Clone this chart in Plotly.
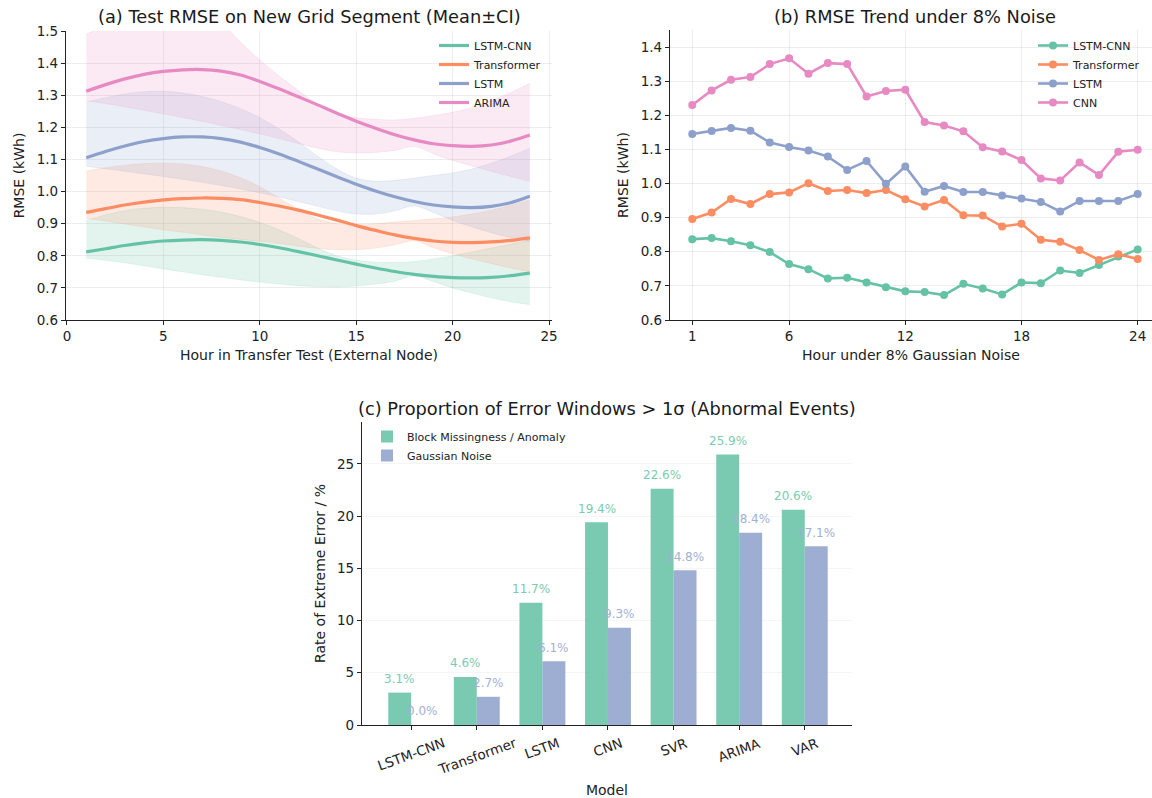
import plotly.graph_objects as go

FONT = "DejaVu Sans"
C_GREEN = "#66c2a5"
C_ORANGE = "#fc8d62"
C_BLUE = "#8da0cb"
C_PINK = "#e78ac3"

# ---------------- Panel (a) data ----------------
hours_a = list(range(1, 25))
a_models = ["LSTM-CNN", "Transformer", "LSTM", "ARIMA"]
a_mean_lstmcnn = [0.812, 0.822, 0.832, 0.840, 0.846, 0.849, 0.850, 0.848, 0.843, 0.835, 0.825, 0.813,
                  0.800, 0.787, 0.774, 0.762, 0.751, 0.742, 0.736, 0.732, 0.731, 0.733, 0.738, 0.746]
a_up_lstmcnn = [0.910, 0.927, 0.941, 0.948, 0.951, 0.950, 0.945, 0.936, 0.922, 0.904, 0.881, 0.854,
                0.824, 0.800, 0.786, 0.780, 0.779, 0.782, 0.790, 0.800, 0.812, 0.824, 0.836, 0.849]
a_lo_lstmcnn = [0.793, 0.786, 0.778, 0.769, 0.759, 0.750, 0.741, 0.733, 0.725, 0.718, 0.712, 0.707,
                0.704, 0.703, 0.706, 0.712, 0.721, 0.737, 0.720, 0.700, 0.684, 0.669, 0.657, 0.648]
a_mean_transformer = [0.935, 0.947, 0.958, 0.967, 0.974, 0.978, 0.980, 0.979, 0.975, 0.966, 0.955, 0.942,
                      0.927, 0.911, 0.894, 0.879, 0.865, 0.854, 0.846, 0.842, 0.841, 0.843, 0.848, 0.856]
a_up_transformer = [1.064, 1.074, 1.082, 1.087, 1.088, 1.086, 1.078, 1.064, 1.043, 1.015, 0.980, 0.945,
                    0.915, 0.900, 0.897, 0.900, 0.905, 0.910, 0.915, 0.921, 0.930, 0.942, 0.957, 0.974]
a_lo_transformer = [0.917, 0.908, 0.899, 0.890, 0.881, 0.873, 0.865, 0.858, 0.851, 0.845, 0.838, 0.830,
                    0.823, 0.819, 0.819, 0.824, 0.834, 0.847, 0.825, 0.806, 0.790, 0.776, 0.762, 0.750]
a_mean_lstm = [1.105, 1.125, 1.142, 1.156, 1.165, 1.170, 1.170, 1.165, 1.154, 1.137, 1.117, 1.094,
               1.070, 1.046, 1.023, 1.002, 0.984, 0.969, 0.958, 0.952, 0.950, 0.954, 0.965, 0.985]
a_up_lstm = [1.278, 1.292, 1.304, 1.311, 1.312, 1.307, 1.296, 1.280, 1.258, 1.230, 1.195, 1.155,
             1.110, 1.070, 1.042, 1.032, 1.035, 1.042, 1.050, 1.058, 1.070, 1.088, 1.110, 1.135]
a_lo_lstm = [1.079, 1.071, 1.063, 1.055, 1.047, 1.038, 1.029, 1.019, 1.008, 0.996, 0.983, 0.969,
             0.954, 0.940, 0.930, 0.930, 0.940, 0.955, 0.935, 0.910, 0.890, 0.872, 0.857, 0.845]
a_mean_arima = [1.312, 1.333, 1.351, 1.365, 1.374, 1.379, 1.380, 1.375, 1.363, 1.343, 1.320, 1.295,
                1.270, 1.244, 1.219, 1.197, 1.177, 1.161, 1.149, 1.143, 1.141, 1.145, 1.157, 1.176]
a_up_arima = [1.490, 1.515, 1.535, 1.550, 1.558, 1.558, 1.550, 1.525, 1.465, 1.410, 1.360, 1.315,
              1.272, 1.243, 1.230, 1.225, 1.223, 1.228, 1.237, 1.247, 1.262, 1.283, 1.308, 1.337]
a_lo_arima = [1.283, 1.274, 1.264, 1.253, 1.242, 1.231, 1.219, 1.206, 1.193, 1.180, 1.165, 1.150,
              1.135, 1.124, 1.120, 1.122, 1.128, 1.140, 1.118, 1.097, 1.080, 1.063, 1.047, 1.032]

# ---------------- Panel (b) data ----------------
hours_b = list(range(1, 25))
b_lstmcnn = [0.837, 0.840, 0.831, 0.819, 0.799, 0.764, 0.749, 0.722, 0.724, 0.710, 0.696, 0.684,
             0.682, 0.673, 0.706, 0.692, 0.675, 0.710, 0.708, 0.745, 0.738, 0.761, 0.786, 0.807]
b_transformer = [0.896, 0.915, 0.955, 0.940, 0.969, 0.974, 1.001, 0.978, 0.981, 0.972, 0.981, 0.954,
                 0.933, 0.952, 0.907, 0.906, 0.874, 0.882, 0.835, 0.829, 0.805, 0.776, 0.793, 0.779]
b_lstm = [1.145, 1.154, 1.163, 1.155, 1.120, 1.107, 1.097, 1.079, 1.040, 1.066, 0.999, 1.050,
          0.976, 0.993, 0.975, 0.975, 0.965, 0.956, 0.946, 0.918, 0.949, 0.949, 0.949, 0.969]
b_cnn = [1.230, 1.273, 1.304, 1.312, 1.350, 1.367, 1.322, 1.353, 1.350, 1.255, 1.271, 1.275,
         1.180, 1.170, 1.153, 1.106, 1.094, 1.069, 1.015, 1.009, 1.062, 1.025, 1.093, 1.099]
b_ticks = [1, 6, 12, 18, 24]

# ---------------- Panel (c) data ----------------
c_models = ["LSTM-CNN", "Transformer", "LSTM", "CNN", "SVR", "ARIMA", "VAR"]
c_block = [3.1, 4.6, 11.7, 19.4, 22.6, 25.9, 20.6]
c_gauss = [0.0, 2.7, 6.1, 9.3, 14.8, 18.4, 17.1]


def rgba(hex_color, a):
    h = hex_color.lstrip("#")
    r, g, b = int(h[0:2], 16), int(h[2:4], 16), int(h[4:6], 16)
    return f"rgba({r},{g},{b},{a})"


W, H = 1152, 798


def px_x(ref_x):
    return ref_x / W


def px_y(ref_y):
    return 1 - ref_y / H


fig = go.Figure()

# Panel (a): bands then lines
a_series = [
    ("LSTM-CNN", C_GREEN, a_mean_lstmcnn, a_up_lstmcnn, a_lo_lstmcnn),
    ("Transformer", C_ORANGE, a_mean_transformer, a_up_transformer, a_lo_transformer),
    ("LSTM", C_BLUE, a_mean_lstm, a_up_lstm, a_lo_lstm),
    ("ARIMA", C_PINK, a_mean_arima, a_up_arima, a_lo_arima),
]
for name, col, mean, up, lo in a_series:
    fig.add_trace(go.Scatter(x=hours_a, y=up, mode="lines", line=dict(width=0.6, color=rgba(col, 0.25), shape="spline"),
                             showlegend=False, hoverinfo="skip", xaxis="x", yaxis="y"))
    fig.add_trace(go.Scatter(x=hours_a, y=lo, mode="lines", line=dict(width=0.6, color=rgba(col, 0.25), shape="spline"),
                             fill="tonexty", fillcolor=rgba(col, 0.18), showlegend=False, hoverinfo="skip",
                             xaxis="x", yaxis="y"))
for name, col, mean, up, lo in a_series:
    fig.add_trace(go.Scatter(x=hours_a, y=mean, mode="lines", name=name,
                             line=dict(width=3.2, color=col, shape="spline"), legend="legend",
                             xaxis="x", yaxis="y"))

# Panel (b)
b_series = [("LSTM-CNN", C_GREEN, b_lstmcnn), ("Transformer", C_ORANGE, b_transformer),
            ("LSTM", C_BLUE, b_lstm), ("CNN", C_PINK, b_cnn)]
for name, col, vals in b_series:
    fig.add_trace(go.Scatter(x=hours_b, y=vals, mode="lines+markers", name=name,
                             line=dict(width=2.6, color=col), marker=dict(size=8, color=col),
                             legend="legend2", xaxis="x2", yaxis="y2"))

# Panel (c)
idx = list(range(len(c_models)))
bw = 0.35
green_bar = rgba(C_GREEN, 0.87)
blue_bar = rgba(C_BLUE, 0.85)
fig.add_trace(go.Bar(x=[i - bw / 2 for i in idx], y=c_block, width=bw, name="Block Missingness / Anomaly",
                     marker=dict(color=green_bar, line=dict(width=0)), legend="legend3",
                     xaxis="x3", yaxis="y3"))
fig.add_trace(go.Bar(x=[i + bw / 2 for i in idx], y=c_gauss, width=bw, name="Gaussian Noise",
                     marker=dict(color=blue_bar, line=dict(width=0)), legend="legend3",
                     xaxis="x3", yaxis="y3"))

annotations = []
for i, v in enumerate(c_block):
    annotations.append(dict(x=i - bw / 2, y=v + 0.45, xref="x3", yref="y3", text=f"{v:.1f}%",
                            showarrow=False, yanchor="bottom", xanchor="center",
                            font=dict(family=FONT, size=12, color="#7ccbb1")))
for i, v in enumerate(c_gauss):
    annotations.append(dict(x=i + bw / 2, y=v + 0.45, xref="x3", yref="y3", text=f"{v:.1f}%",
                            showarrow=False, yanchor="bottom", xanchor="center",
                            font=dict(family=FONT, size=12, color="#a3b0d6")))

# rotated category labels centred under each tick
tick_font = dict(family=FONT, size=13.5, color="#222")
for i, m in enumerate(c_models):
    annotations.append(dict(x=i, y=px_y(732), xref="x3", yref="paper", text=m, textangle=-20,
                            showarrow=False, xanchor="center", yanchor="top", font=tick_font))

# Titles
title_font = dict(family=FONT, size=17.8, color="#1a1a1a")
annotations += [
    dict(x=px_x(309), y=px_y(17), xref="paper", yref="paper", text="(a) Test RMSE on New Grid Segment (Mean±CI)",
         showarrow=False, xanchor="center", yanchor="middle", font=title_font),
    dict(x=px_x(915), y=px_y(17), xref="paper", yref="paper", text="(b) RMSE Trend under 8% Noise",
         showarrow=False, xanchor="center", yanchor="middle", font=title_font),
    dict(x=px_x(607), y=px_y(408), xref="paper", yref="paper",
         text="(c) Proportion of Error Windows > 1σ (Abnormal Events)",
         showarrow=False, xanchor="center", yanchor="middle", font=title_font),
]

label_font = dict(family=FONT, size=14, color="#222")
grid_col = "rgba(0,0,0,0.07)"

common_axis = dict(showline=True, linecolor="#222", linewidth=1.2, ticks="outside", ticklen=4,
                   tickwidth=1.1, tickcolor="#222", tickfont=tick_font, zeroline=False,
                   gridcolor=grid_col, gridwidth=1, mirror=False, automargin=False)

fig.update_layout(
    width=W, height=H,
    margin=dict(l=0, r=0, t=0, b=0),
    paper_bgcolor="white", plot_bgcolor="white",
    font=dict(family=FONT, color="#222"),
    showlegend=True,
    annotations=annotations,
    barmode="overlay",
    xaxis=dict(common_axis, domain=[px_x(66), px_x(552)], anchor="y", range=[-0.05, 25.15],
               tickvals=[0, 5, 10, 15, 20, 25], showgrid=True,
               title=dict(text="Hour in Transfer Test (External Node)", font=label_font, standoff=6)),
    yaxis=dict(common_axis, domain=[px_y(320), px_y(31)], anchor="x", range=[0.6, 1.5], dtick=0.1,
               tickformat=".1f", showgrid=True,
               title=dict(text="RMSE (kWh)", font=label_font, standoff=8)),
    xaxis2=dict(common_axis, domain=[px_x(670), 1.0], anchor="y2", range=[-0.15, 24.74],
                tickvals=b_ticks, showgrid=True,
                title=dict(text="Hour under 8% Gaussian Noise", font=label_font, standoff=6)),
    yaxis2=dict(common_axis, domain=[px_y(320), px_y(30)], anchor="x2", range=[0.6, 1.45], dtick=0.1,
                tickformat=".1f", showgrid=True,
                title=dict(text="RMSE (kWh)", font=label_font, standoff=8)),
    xaxis3=dict(common_axis, domain=[px_x(362), px_x(852)], anchor="y3", range=[-0.75, 6.72],
                tickvals=idx, ticktext=c_models, showticklabels=False, showgrid=False,
                title=dict(text="Model", font=label_font, standoff=56)),
    yaxis3=dict(common_axis, domain=[px_y(725), px_y(422)], anchor="x3", range=[0, 29.0],
                tickvals=[0, 5, 10, 15, 20, 25], showgrid=True, gridcolor="rgba(0,0,0,0.04)",
                title=dict(text="Rate of Extreme Error / %", font=label_font, standoff=8)),
    legend=dict(x=px_x(434), y=px_y(31), xanchor="left", yanchor="top", bgcolor="rgba(255,255,255,0)",
                font=dict(family=FONT, size=11, color="#222"), itemwidth=30, traceorder="normal"),
    legend2=dict(x=px_x(1033), y=px_y(31), xanchor="left", yanchor="top", bgcolor="rgba(255,255,255,0)",
                 font=dict(family=FONT, size=11, color="#222"), itemwidth=30, traceorder="normal"),
    legend3=dict(x=px_x(367), y=px_y(422), xanchor="left", yanchor="top", bgcolor="rgba(255,255,255,0)",
                 font=dict(family=FONT, size=11, color="#222"), itemwidth=30, traceorder="normal"),
)

fig.write_html("out.html", config={"displayModeBar": False},
               post_script="document.body.style.margin='0';")
